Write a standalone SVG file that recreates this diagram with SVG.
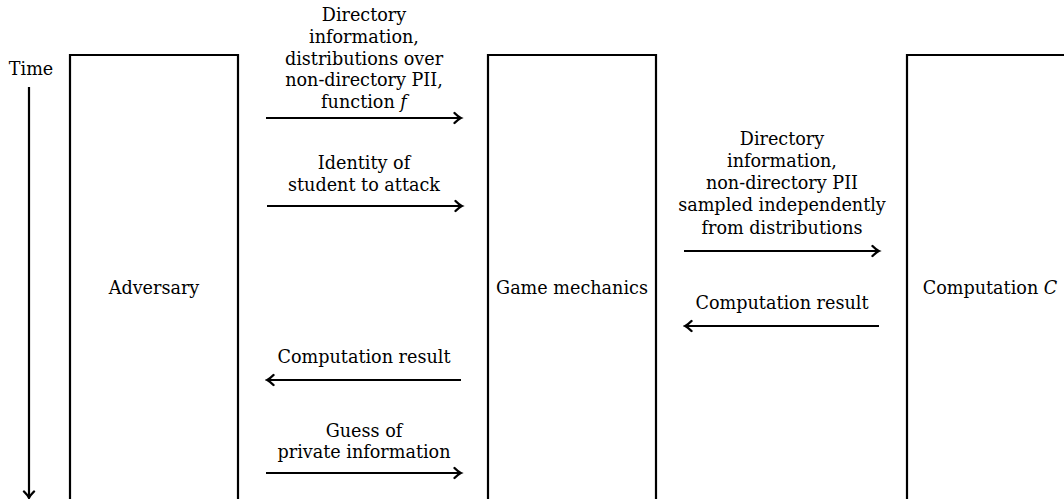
<svg xmlns="http://www.w3.org/2000/svg" width="1064" height="499" viewBox="0 0 1064 499">
  <style>
    .box { fill: none; stroke: #000; stroke-width: 2.2; }
    .lbl { font-family: "DejaVu Serif", "Liberation Serif", serif; font-size: 17.6px; fill: #000; text-anchor: middle; }
    .it { font-style: italic; }
    .arr { stroke: #000; stroke-width: 2.2; fill: none; marker-end: url(#head); }
  </style>
  <defs>
    <!-- curved "to"-style arrow tip -->
    <marker id="head" markerUnits="userSpaceOnUse" markerWidth="14" markerHeight="14" viewBox="-9 -7 11 14" refX="0" refY="0" orient="auto">
      <path d="M -5.5 -5 Q -1.6 -1.1 0.8 0 Q -1.6 1.1 -5.5 5" fill="none" stroke="#000" stroke-width="2.4" stroke-linecap="round"/>
    </marker>
  </defs>
  <rect width="1064" height="499" fill="#fff"/>

  <!-- time axis -->
  <g id="time">
    <text class="lbl" x="31" y="75">Time</text>
    <line class="arr" x1="29" y1="87" x2="29" y2="497"/>
  </g>

  <!-- participants (open at the bottom) -->
  <g id="adversary">
    <path class="box" d="M70 510 V55 H238 V510"/>
    <text class="lbl" x="154" y="294">Adversary</text>
  </g>
  <g id="game-mechanics">
    <path class="box" d="M488 510 V55 H656 V510"/>
    <text class="lbl" x="572" y="294">Game mechanics</text>
  </g>
  <g id="computation">
    <path class="box" d="M907 510 V55 H1080 V510"/>
    <text class="lbl" x="990" y="294">Computation <tspan class="it">C</tspan></text>
  </g>

  <!-- messages -->
  <g id="connectors">
    <line class="arr" x1="266" y1="118" x2="460" y2="118"/>
    <line class="arr" x1="267" y1="206" x2="461" y2="206"/>
    <line class="arr" x1="684" y1="251" x2="878" y2="251"/>
    <line class="arr" x1="879" y1="326" x2="686" y2="326"/>
    <line class="arr" x1="461" y1="380" x2="268" y2="380"/>
    <line class="arr" x1="266" y1="473" x2="460" y2="473"/>
  </g>

  <g id="labels">
    <text class="lbl" x="364" y="21">Directory</text>
    <text class="lbl" x="364" y="43">information,</text>
    <text class="lbl" x="364" y="64.5">distributions over</text>
    <text class="lbl" x="364" y="86">non-directory PII,</text>
    <text class="lbl" x="364" y="107.5">function <tspan class="it">f</tspan></text>

    <text class="lbl" x="364" y="169">Identity of</text>
    <text class="lbl" x="364" y="191">student to attack</text>

    <text class="lbl" x="782" y="145">Directory</text>
    <text class="lbl" x="782" y="167">information,</text>
    <text class="lbl" x="782" y="189">non-directory PII</text>
    <text class="lbl" x="782" y="211">sampled independently</text>
    <text class="lbl" x="782" y="234">from distributions</text>

    <text class="lbl" x="782" y="309">Computation result</text>

    <text class="lbl" x="364" y="363">Computation result</text>

    <text class="lbl" x="364" y="437">Guess of</text>
    <text class="lbl" x="364" y="458">private information</text>
  </g>
</svg>
